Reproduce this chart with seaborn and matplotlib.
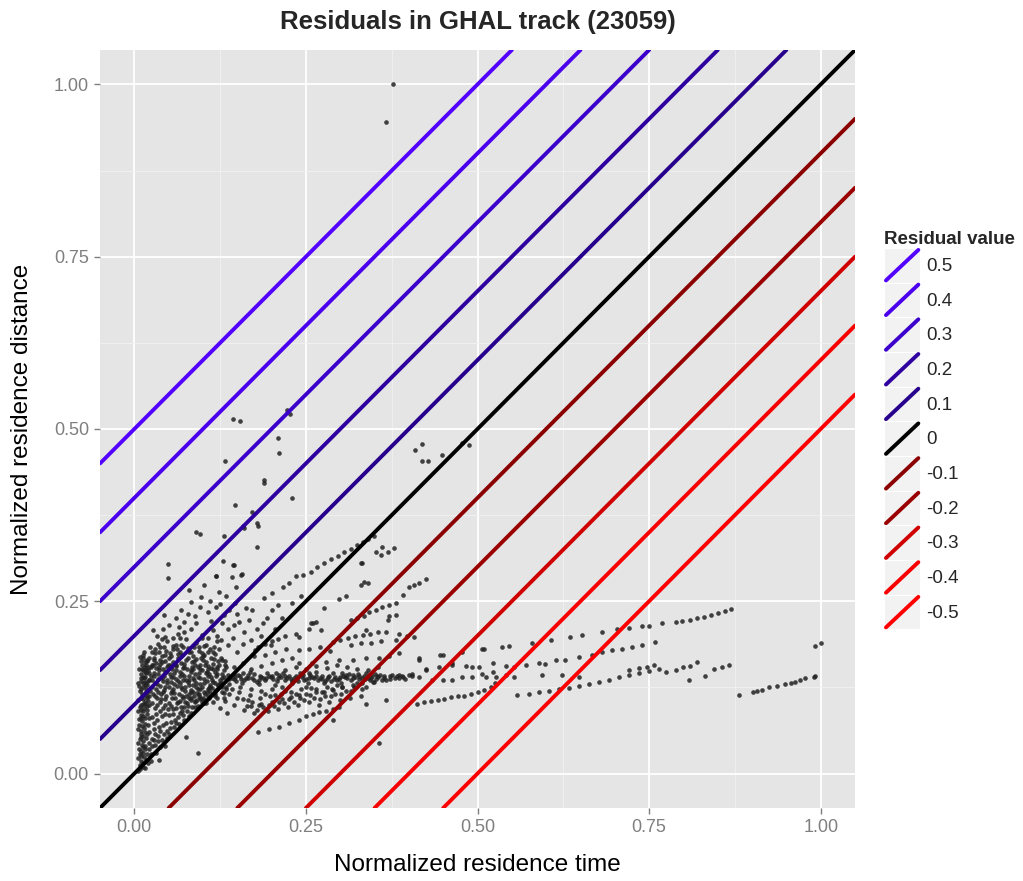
import numpy as np
import pandas as pd
import matplotlib
matplotlib.use("Agg")
import matplotlib.pyplot as plt
import seaborn as sns
from matplotlib.legend_handler import HandlerBase
from matplotlib.lines import Line2D
from matplotlib.patches import Rectangle
from matplotlib.ticker import MultipleLocator, FormatStrFormatter

# residual reference lines (y = x + r)
residuals = [0.5, 0.4, 0.3, 0.2, 0.1, 0.0, -0.1, -0.2, -0.3, -0.4, -0.5]
residual_labels = ["0.5", "0.4", "0.3", "0.2", "0.1", "0", "-0.1", "-0.2", "-0.3", "-0.4", "-0.5"]
residual_colors = ["#5200FF", "#4A00EE", "#3C00CC", "#2E00A0", "#26008C", "#000000",
                   "#8B0000", "#9A0000", "#D00000", "#F80000", "#FF0000"]

# point groups (normalized time, normalized distance)
outliers = [(0.377, 1.000), (0.367, 0.945), (0.144, 0.515), (0.154, 0.512), (0.223, 0.528),
            (0.227, 0.522), (0.209, 0.487), (0.211, 0.465), (0.132, 0.454), (0.189, 0.426),
            (0.189, 0.422), (0.229, 0.400), (0.147, 0.389), (0.172, 0.380), (0.158, 0.359),
            (0.160, 0.356), (0.178, 0.364), (0.180, 0.359), (0.090, 0.351), (0.095, 0.348),
            (0.130, 0.345), (0.179, 0.329), (0.049, 0.304), (0.049, 0.284), (0.129, 0.308),
            (0.145, 0.303), (0.119, 0.287), (0.142, 0.285), (0.157, 0.290), (0.409, 0.470),
            (0.419, 0.478), (0.419, 0.453), (0.428, 0.454), (0.448, 0.462), (0.478, 0.480),
            (0.487, 0.477), (0.352, 0.321), (0.361, 0.329), (0.369, 0.322), (0.378, 0.327),
            (0.360, 0.317), (0.331, 0.305)]

upper_scatter = [(0.119, 0.286), (0.143, 0.303), (0.155, 0.288), (0.148, 0.271), (0.124, 0.264),
                 (0.133, 0.257), (0.080, 0.266), (0.102, 0.274), (0.068, 0.237), (0.083, 0.249),
                 (0.095, 0.242), (0.107, 0.235), (0.119, 0.242), (0.131, 0.230), (0.146, 0.247),
                 (0.153, 0.220), (0.167, 0.223), (0.187, 0.218), (0.172, 0.237), (0.201, 0.237),
                 (0.230, 0.247), (0.243, 0.257), (0.257, 0.218), (0.027, 0.208), (0.041, 0.209),
                 (0.037, 0.184), (0.056, 0.196), (0.073, 0.220), (0.073, 0.206), (0.090, 0.218),
                 (0.099, 0.201), (0.114, 0.208), (0.136, 0.209), (0.126, 0.194), (0.137, 0.186),
                 (0.150, 0.177), (0.170, 0.194), (0.176, 0.179), (0.199, 0.186), (0.221, 0.181),
                 (0.240, 0.198), (0.255, 0.210), (0.264, 0.220), (0.060, 0.225), (0.088, 0.228),
                 (0.112, 0.222), (0.043, 0.230), (0.160, 0.205), (0.185, 0.200), (0.205, 0.210),
                 (0.215, 0.225), (0.050, 0.215), (0.065, 0.212), (0.078, 0.232), (0.097, 0.256),
                 (0.110, 0.250), (0.125, 0.246), (0.138, 0.238), (0.150, 0.232), (0.163, 0.240),
                 (0.178, 0.210), (0.193, 0.226), (0.210, 0.245), (0.108, 0.196), (0.120, 0.200),
                 (0.143, 0.197), (0.158, 0.188), (0.045, 0.198), (0.033, 0.200), (0.064, 0.203),
                 (0.082, 0.210), (0.127, 0.218), (0.145, 0.215)]

diag_streak = [(0.189, 0.254), (0.201, 0.262), (0.216, 0.271), (0.225, 0.276), (0.235, 0.286),
               (0.245, 0.288), (0.257, 0.293), (0.266, 0.299), (0.277, 0.305), (0.286, 0.311),
               (0.296, 0.316), (0.306, 0.321), (0.315, 0.326), (0.325, 0.331), (0.333, 0.336),
               (0.341, 0.340), (0.349, 0.345), (0.298, 0.253), (0.308, 0.258), (0.277, 0.240),
               (0.260, 0.218), (0.272, 0.208), (0.330, 0.305), (0.330, 0.274), (0.340, 0.277),
               (0.335, 0.278)]

vertical = [(0.008, 0.012), (0.010, 0.018), (0.012, 0.010), (0.009, 0.025), (0.013, 0.030),
            (0.007, 0.036), (0.011, 0.042), (0.015, 0.040), (0.008, 0.050), (0.012, 0.055),
            (0.010, 0.062), (0.014, 0.066), (0.007, 0.071), (0.011, 0.076), (0.016, 0.080),
            (0.009, 0.085), (0.013, 0.090), (0.008, 0.096), (0.012, 0.101), (0.016, 0.104),
            (0.010, 0.110), (0.014, 0.114), (0.008, 0.120), (0.012, 0.125), (0.016, 0.128),
            (0.010, 0.134), (0.014, 0.138), (0.009, 0.144), (0.013, 0.150), (0.017, 0.146),
            (0.011, 0.157), (0.015, 0.162), (0.012, 0.168), (0.018, 0.058), (0.017, 0.020),
            (0.020, 0.015), (0.018, 0.112), (0.019, 0.092), (0.005, 0.004), (0.016, 0.008),
            (0.024, 0.018), (0.006, 0.022), (0.014, 0.024), (0.010, 0.032), (0.016, 0.035),
            (0.006, 0.045), (0.013, 0.047), (0.017, 0.052), (0.009, 0.058), (0.006, 0.064),
            (0.015, 0.072), (0.010, 0.081), (0.018, 0.086), (0.006, 0.090), (0.014, 0.095),
            (0.010, 0.099), (0.018, 0.098), (0.006, 0.106), (0.013, 0.108), (0.017, 0.118),
            (0.010, 0.122), (0.006, 0.131), (0.016, 0.133), (0.012, 0.140), (0.007, 0.152),
            (0.016, 0.155), (0.009, 0.163), (0.013, 0.172), (0.018, 0.165), (0.008, 0.006),
            (0.013, 0.015), (0.019, 0.028), (0.021, 0.045), (0.022, 0.060), (0.021, 0.080),
            (0.023, 0.120), (0.022, 0.135), (0.021, 0.155), (0.008, 0.029), (0.012, 0.039),
            (0.009, 0.053), (0.015, 0.060), (0.011, 0.069), (0.007, 0.079), (0.013, 0.083),
            (0.009, 0.092), (0.015, 0.101), (0.011, 0.116), (0.007, 0.127), (0.013, 0.131),
            (0.009, 0.139), (0.015, 0.148), (0.011, 0.152), (0.017, 0.158), (0.008, 0.169),
            (0.014, 0.176)]

near_origin = [(0.022, 0.035), (0.025, 0.050), (0.028, 0.065), (0.030, 0.042), (0.033, 0.078),
               (0.035, 0.055), (0.038, 0.090), (0.040, 0.048), (0.042, 0.070), (0.045, 0.100),
               (0.048, 0.062), (0.050, 0.085), (0.053, 0.075), (0.055, 0.110), (0.058, 0.068),
               (0.060, 0.095), (0.063, 0.082), (0.066, 0.105), (0.070, 0.090), (0.072, 0.078),
               (0.075, 0.112), (0.078, 0.098), (0.082, 0.088), (0.085, 0.118), (0.088, 0.105),
               (0.092, 0.098), (0.095, 0.122), (0.100, 0.110), (0.105, 0.102), (0.110, 0.118),
               (0.024, 0.028), (0.032, 0.030), (0.045, 0.040), (0.030, 0.095), (0.026, 0.082),
               (0.039, 0.108), (0.020, 0.070), (0.022, 0.100), (0.092, 0.030), (0.036, 0.019),
               (0.075, 0.053), (0.026, 0.040), (0.030, 0.058), (0.034, 0.047), (0.036, 0.068),
               (0.040, 0.083), (0.043, 0.057), (0.046, 0.074), (0.049, 0.093), (0.052, 0.066),
               (0.056, 0.087), (0.059, 0.078), (0.062, 0.102), (0.065, 0.072), (0.068, 0.097),
               (0.071, 0.085), (0.074, 0.104), (0.077, 0.091), (0.080, 0.110), (0.084, 0.097),
               (0.087, 0.112), (0.091, 0.106), (0.094, 0.115), (0.098, 0.104), (0.102, 0.118),
               (0.107, 0.112), (0.113, 0.124), (0.118, 0.120), (0.028, 0.074), (0.033, 0.100),
               (0.037, 0.038), (0.041, 0.095), (0.047, 0.052), (0.054, 0.098), (0.028, 0.048),
               (0.031, 0.086), (0.038, 0.061), (0.044, 0.087), (0.051, 0.057), (0.057, 0.093),
               (0.061, 0.073), (0.067, 0.088), (0.073, 0.097), (0.079, 0.083), (0.083, 0.106),
               (0.089, 0.096), (0.096, 0.110), (0.103, 0.107), (0.109, 0.124), (0.116, 0.116),
               (0.122, 0.128), (0.127, 0.126)]

cluster = [(0.020, 0.105), (0.030, 0.112), (0.042, 0.118), (0.055, 0.120), (0.068, 0.125),
           (0.080, 0.128), (0.095, 0.130), (0.110, 0.128), (0.125, 0.132), (0.018, 0.128),
           (0.025, 0.135), (0.033, 0.130), (0.040, 0.138), (0.048, 0.132), (0.056, 0.140),
           (0.064, 0.134), (0.072, 0.142), (0.080, 0.136), (0.088, 0.144), (0.096, 0.138),
           (0.104, 0.146), (0.112, 0.140), (0.120, 0.145), (0.128, 0.138), (0.136, 0.143),
           (0.020, 0.150), (0.028, 0.146), (0.036, 0.155), (0.044, 0.148), (0.052, 0.158),
           (0.060, 0.150), (0.068, 0.160), (0.076, 0.152), (0.084, 0.162), (0.092, 0.155),
           (0.100, 0.164), (0.108, 0.156), (0.116, 0.166), (0.124, 0.158), (0.132, 0.163),
           (0.022, 0.168), (0.030, 0.175), (0.038, 0.165), (0.046, 0.178), (0.054, 0.170),
           (0.062, 0.180), (0.070, 0.172), (0.078, 0.182), (0.086, 0.170), (0.094, 0.178),
           (0.102, 0.172), (0.110, 0.180), (0.118, 0.174), (0.126, 0.168), (0.035, 0.188),
           (0.048, 0.192), (0.060, 0.186), (0.075, 0.195), (0.090, 0.190), (0.105, 0.186),
           (0.120, 0.192), (0.024, 0.142), (0.032, 0.160), (0.044, 0.126), (0.058, 0.130),
           (0.066, 0.148), (0.074, 0.120), (0.082, 0.150), (0.090, 0.126), (0.098, 0.150),
           (0.106, 0.134), (0.114, 0.152), (0.122, 0.124), (0.130, 0.150), (0.138, 0.130),
           (0.015, 0.140), (0.019, 0.118), (0.027, 0.158), (0.040, 0.170), (0.052, 0.145),
           (0.063, 0.168), (0.071, 0.135), (0.086, 0.138), (0.097, 0.168), (0.109, 0.145),
           (0.117, 0.132), (0.134, 0.155)]

cluster_dense = [(0.025, 0.103), (0.037, 0.104), (0.051, 0.102), (0.063, 0.104), (0.077, 0.103),
                 (0.089, 0.104), (0.101, 0.102), (0.115, 0.104), (0.019, 0.109), (0.033, 0.110),
                 (0.045, 0.108), (0.059, 0.110), (0.071, 0.109), (0.083, 0.110), (0.097, 0.108),
                 (0.109, 0.110), (0.121, 0.109), (0.027, 0.116), (0.039, 0.115), (0.053, 0.117),
                 (0.065, 0.116), (0.079, 0.115), (0.091, 0.117), (0.103, 0.116), (0.117, 0.115),
                 (0.131, 0.117), (0.017, 0.122), (0.031, 0.123), (0.043, 0.121), (0.057, 0.123),
                 (0.069, 0.122), (0.083, 0.121), (0.093, 0.123), (0.107, 0.122), (0.119, 0.121),
                 (0.133, 0.123), (0.021, 0.136), (0.035, 0.137), (0.047, 0.135), (0.061, 0.137),
                 (0.075, 0.136), (0.087, 0.135), (0.101, 0.137), (0.113, 0.136), (0.125, 0.135),
                 (0.029, 0.141), (0.043, 0.142), (0.053, 0.140), (0.067, 0.141), (0.079, 0.142),
                 (0.093, 0.140), (0.107, 0.141), (0.119, 0.142), (0.131, 0.140), (0.017, 0.152),
                 (0.031, 0.153), (0.041, 0.151), (0.055, 0.152), (0.071, 0.153), (0.085, 0.151),
                 (0.095, 0.152), (0.111, 0.153), (0.121, 0.151), (0.025, 0.158), (0.037, 0.159),
                 (0.049, 0.157), (0.061, 0.158), (0.073, 0.159), (0.089, 0.157), (0.103, 0.158),
                 (0.115, 0.159), (0.019, 0.163), (0.029, 0.164), (0.045, 0.163), (0.057, 0.162),
                 (0.075, 0.164), (0.087, 0.163), (0.105, 0.162), (0.127, 0.164), (0.026, 0.176),
                 (0.036, 0.177), (0.052, 0.175), (0.066, 0.176), (0.082, 0.177), (0.098, 0.175),
                 (0.114, 0.176), (0.023, 0.184), (0.043, 0.183), (0.057, 0.185), (0.071, 0.184),
                 (0.087, 0.183), (0.101, 0.185), (0.116, 0.184)]

cluster_fill = [(0.022, 0.112), (0.034, 0.118), (0.046, 0.113), (0.058, 0.117), (0.070, 0.113),
                (0.082, 0.118), (0.094, 0.113), (0.106, 0.118), (0.118, 0.112), (0.130, 0.110),
                (0.026, 0.126), (0.038, 0.127), (0.050, 0.125), (0.062, 0.127), (0.074, 0.126),
                (0.086, 0.128), (0.098, 0.125), (0.110, 0.126), (0.122, 0.129), (0.134, 0.126),
                (0.018, 0.133), (0.030, 0.132), (0.042, 0.134), (0.054, 0.133), (0.066, 0.131),
                (0.078, 0.133), (0.090, 0.132), (0.102, 0.131), (0.114, 0.133), (0.126, 0.132),
                (0.138, 0.137), (0.022, 0.146), (0.034, 0.145), (0.046, 0.147), (0.058, 0.146),
                (0.070, 0.145), (0.082, 0.147), (0.094, 0.146), (0.106, 0.148), (0.118, 0.147),
                (0.128, 0.145), (0.024, 0.155), (0.036, 0.150), (0.048, 0.154), (0.060, 0.156),
                (0.072, 0.155), (0.084, 0.155), (0.096, 0.157), (0.108, 0.152), (0.120, 0.155),
                (0.132, 0.158), (0.028, 0.168), (0.040, 0.162), (0.050, 0.167), (0.064, 0.174),
                (0.078, 0.167), (0.090, 0.166), (0.100, 0.170), (0.112, 0.168), (0.122, 0.163),
                (0.030, 0.181), (0.044, 0.172), (0.056, 0.180), (0.068, 0.186), (0.080, 0.176),
                (0.094, 0.184), (0.108, 0.176), (0.124, 0.180), (0.040, 0.195), (0.066, 0.196),
                (0.098, 0.196)]

band = [(0.142, 0.139), (0.148, 0.134), (0.154, 0.141), (0.160, 0.136), (0.166, 0.143),
        (0.172, 0.138), (0.178, 0.133), (0.184, 0.140), (0.190, 0.136), (0.196, 0.142),
        (0.202, 0.137), (0.208, 0.134), (0.214, 0.140), (0.220, 0.136), (0.226, 0.142),
        (0.232, 0.138), (0.238, 0.134), (0.244, 0.140), (0.250, 0.137), (0.256, 0.143),
        (0.262, 0.138), (0.268, 0.135), (0.274, 0.141), (0.280, 0.137), (0.286, 0.134),
        (0.292, 0.140), (0.298, 0.137), (0.304, 0.142), (0.310, 0.138), (0.316, 0.135),
        (0.322, 0.140), (0.328, 0.137), (0.334, 0.142), (0.340, 0.138), (0.346, 0.141),
        (0.352, 0.137), (0.358, 0.143), (0.364, 0.139), (0.372, 0.141), (0.380, 0.138),
        (0.390, 0.142), (0.400, 0.143), (0.415, 0.140), (0.145, 0.145), (0.157, 0.131),
        (0.169, 0.147), (0.181, 0.130), (0.193, 0.146), (0.205, 0.129), (0.217, 0.146),
        (0.229, 0.131), (0.241, 0.146), (0.253, 0.131), (0.265, 0.147), (0.277, 0.131),
        (0.289, 0.146), (0.301, 0.132), (0.313, 0.145), (0.325, 0.132), (0.337, 0.146),
        (0.349, 0.133), (0.361, 0.135), (0.145, 0.137), (0.151, 0.143), (0.163, 0.139),
        (0.175, 0.144), (0.187, 0.138), (0.199, 0.140), (0.211, 0.143), (0.223, 0.139),
        (0.235, 0.141), (0.247, 0.136), (0.259, 0.140), (0.271, 0.138), (0.283, 0.142),
        (0.295, 0.135), (0.307, 0.140), (0.319, 0.143), (0.331, 0.139), (0.343, 0.135),
        (0.355, 0.140), (0.367, 0.136), (0.376, 0.143), (0.385, 0.139), (0.395, 0.137),
        (0.405, 0.141), (0.158, 0.146), (0.182, 0.135), (0.206, 0.146), (0.230, 0.134),
        (0.254, 0.146), (0.278, 0.134), (0.302, 0.146), (0.326, 0.144), (0.350, 0.145),
        (0.147, 0.140), (0.156, 0.137), (0.165, 0.139), (0.174, 0.136), (0.183, 0.142),
        (0.192, 0.139), (0.201, 0.141), (0.210, 0.138), (0.219, 0.141), (0.228, 0.137),
        (0.237, 0.139), (0.246, 0.143), (0.255, 0.138), (0.264, 0.141), (0.273, 0.137),
        (0.282, 0.140), (0.291, 0.137), (0.300, 0.140), (0.309, 0.143), (0.318, 0.138),
        (0.327, 0.141), (0.336, 0.137), (0.345, 0.139), (0.354, 0.142), (0.363, 0.141),
        (0.372, 0.137), (0.382, 0.141), (0.392, 0.140)]

steep_cols = [(0.150, 0.110), (0.152, 0.118), (0.154, 0.126), (0.164, 0.098), (0.166, 0.106),
              (0.168, 0.114), (0.170, 0.122), (0.179, 0.092), (0.181, 0.100), (0.183, 0.110),
              (0.185, 0.120), (0.194, 0.090), (0.196, 0.100), (0.198, 0.112), (0.200, 0.122),
              (0.209, 0.094), (0.211, 0.104), (0.213, 0.116), (0.215, 0.126), (0.224, 0.096),
              (0.226, 0.108), (0.228, 0.118), (0.239, 0.100), (0.241, 0.110), (0.243, 0.122),
              (0.254, 0.104), (0.256, 0.114), (0.258, 0.124), (0.269, 0.100), (0.271, 0.108),
              (0.273, 0.118), (0.284, 0.104), (0.286, 0.112), (0.288, 0.122), (0.299, 0.106),
              (0.301, 0.116), (0.303, 0.126), (0.314, 0.110), (0.316, 0.120), (0.330, 0.112),
              (0.332, 0.122), (0.125, 0.095), (0.132, 0.105), (0.138, 0.115), (0.142, 0.122),
              (0.128, 0.118), (0.135, 0.088), (0.145, 0.100), (0.158, 0.108), (0.160, 0.092),
              (0.172, 0.104), (0.175, 0.088), (0.188, 0.096), (0.190, 0.116), (0.203, 0.098),
              (0.205, 0.114), (0.218, 0.102), (0.220, 0.120), (0.232, 0.104), (0.235, 0.116),
              (0.247, 0.106), (0.250, 0.126), (0.262, 0.110), (0.265, 0.122), (0.278, 0.112),
              (0.280, 0.126), (0.292, 0.116), (0.295, 0.128), (0.308, 0.120), (0.320, 0.125),
              (0.338, 0.126)]

above_band = [(0.145, 0.155), (0.158, 0.160), (0.170, 0.152), (0.185, 0.156), (0.200, 0.160),
              (0.215, 0.164), (0.230, 0.168), (0.175, 0.170), (0.190, 0.172), (0.205, 0.176),
              (0.220, 0.150), (0.235, 0.154), (0.250, 0.152), (0.265, 0.156), (0.280, 0.153),
              (0.295, 0.157), (0.310, 0.155), (0.325, 0.152), (0.340, 0.150), (0.355, 0.154)]

mid_streaks = [(0.289, 0.191), (0.300, 0.194), (0.311, 0.196), (0.322, 0.199), (0.333, 0.201),
               (0.344, 0.203), (0.355, 0.205), (0.366, 0.206), (0.386, 0.202), (0.397, 0.200),
               (0.408, 0.198), (0.240, 0.179), (0.255, 0.181), (0.270, 0.183), (0.285, 0.178),
               (0.315, 0.187), (0.330, 0.189), (0.345, 0.190), (0.360, 0.192), (0.381, 0.194),
               (0.240, 0.160), (0.259, 0.161), (0.279, 0.162), (0.298, 0.164), (0.318, 0.165),
               (0.337, 0.167), (0.357, 0.168), (0.371, 0.170), (0.386, 0.175), (0.315, 0.223),
               (0.325, 0.225), (0.335, 0.229), (0.342, 0.235), (0.352, 0.237), (0.361, 0.242),
               (0.371, 0.245), (0.381, 0.247), (0.391, 0.259), (0.400, 0.271), (0.408, 0.274),
               (0.415, 0.276), (0.425, 0.282), (0.337, 0.208), (0.369, 0.223), (0.371, 0.228),
               (0.381, 0.230), (0.180, 0.184), (0.190, 0.188), (0.200, 0.192), (0.210, 0.195),
               (0.220, 0.199), (0.235, 0.203)]

low_streaks = [(0.180, 0.060), (0.196, 0.064), (0.211, 0.068), (0.226, 0.073), (0.240, 0.078),
               (0.250, 0.084), (0.260, 0.087), (0.269, 0.089), (0.279, 0.091), (0.289, 0.094),
               (0.298, 0.097), (0.170, 0.098), (0.185, 0.101), (0.200, 0.104), (0.215, 0.108),
               (0.228, 0.111), (0.240, 0.114), (0.250, 0.116), (0.264, 0.118), (0.277, 0.118),
               (0.289, 0.121), (0.303, 0.126), (0.318, 0.128), (0.332, 0.131), (0.347, 0.133),
               (0.412, 0.101), (0.422, 0.104), (0.432, 0.105), (0.442, 0.107), (0.451, 0.108),
               (0.461, 0.111), (0.471, 0.112), (0.480, 0.113), (0.490, 0.116), (0.500, 0.118),
               (0.509, 0.121), (0.519, 0.126), (0.526, 0.131), (0.558, 0.114), (0.575, 0.116),
               (0.590, 0.118), (0.604, 0.120), (0.619, 0.122), (0.633, 0.124), (0.648, 0.127),
               (0.662, 0.130), (0.677, 0.133), (0.691, 0.136), (0.706, 0.140), (0.721, 0.143),
               (0.735, 0.146), (0.750, 0.149), (0.765, 0.152), (0.357, 0.045), (0.289, 0.077),
               (0.337, 0.101), (0.366, 0.106)]

right_streaks = [(0.774, 0.148), (0.789, 0.150), (0.800, 0.154), (0.810, 0.156), (0.820, 0.162),
                 (0.721, 0.150), (0.735, 0.153), (0.747, 0.155), (0.757, 0.157), (0.808, 0.135),
                 (0.832, 0.141), (0.844, 0.151), (0.856, 0.154), (0.866, 0.157), (0.881, 0.114),
                 (0.902, 0.118), (0.907, 0.120), (0.914, 0.121), (0.924, 0.126), (0.936, 0.127),
                 (0.948, 0.130), (0.956, 0.131), (0.963, 0.133), (0.970, 0.135), (0.977, 0.138),
                 (0.990, 0.140), (0.992, 0.142), (0.992, 0.185), (1.001, 0.190)]

upper_long = [(0.415, 0.167), (0.449, 0.172), (0.478, 0.176), (0.507, 0.180), (0.536, 0.184),
              (0.546, 0.185), (0.579, 0.189), (0.607, 0.194), (0.634, 0.198), (0.652, 0.201),
              (0.682, 0.205), (0.703, 0.209), (0.721, 0.211), (0.740, 0.214), (0.750, 0.214),
              (0.769, 0.218), (0.789, 0.220), (0.798, 0.221), (0.810, 0.223), (0.820, 0.225),
              (0.830, 0.227), (0.840, 0.230), (0.850, 0.233), (0.860, 0.236), (0.869, 0.239),
              (0.386, 0.143), (0.405, 0.145), (0.425, 0.150), (0.444, 0.155), (0.463, 0.160),
              (0.483, 0.156), (0.502, 0.155), (0.522, 0.160), (0.541, 0.156), (0.553, 0.155),
              (0.570, 0.157), (0.590, 0.160), (0.599, 0.159), (0.614, 0.164), (0.628, 0.165),
              (0.648, 0.169), (0.667, 0.172), (0.682, 0.177), (0.696, 0.179), (0.711, 0.181),
              (0.725, 0.184), (0.740, 0.186), (0.759, 0.191), (0.434, 0.135), (0.449, 0.135),
              (0.463, 0.135), (0.478, 0.140), (0.492, 0.140), (0.507, 0.145), (0.522, 0.147),
              (0.512, 0.140), (0.527, 0.140), (0.541, 0.143), (0.553, 0.140), (0.594, 0.143),
              (0.623, 0.143), (0.648, 0.140), (0.425, 0.152), (0.463, 0.157), (0.492, 0.155),
              (0.509, 0.181), (0.415, 0.165), (0.446, 0.172)]

groups = [outliers, upper_scatter, diag_streak, vertical, near_origin, cluster, cluster_dense,
          cluster_fill, band, steep_cols, above_band, mid_streaks, low_streaks, right_streaks,
          upper_long]
pts = pd.DataFrame([p for g in groups for p in g], columns=["time", "dist"])


class DiagonalKey(HandlerBase):
    # ggplot-style legend key: grey box with a diagonal line
    def create_artists(self, legend, orig_handle, xdescent, ydescent, width, height, fontsize, trans):
        x0, y0 = -xdescent, -ydescent
        bg = Rectangle((x0, y0), width, height, facecolor="#F2F2F2", edgecolor="white",
                       lw=0.8, transform=trans)
        ln = Line2D([x0 + 1.5, x0 + width - 1.5], [y0 + 1.5, y0 + height - 1.5],
                    color=orig_handle.get_color(), lw=orig_handle.get_linewidth(),
                    solid_capstyle="round", transform=trans)
        return [bg, ln]


sns.set_theme(style="darkgrid", rc={
    "axes.facecolor": "#E5E5E5",
    "grid.color": "white",
    "axes.edgecolor": "none",
})
plt.rcParams["font.family"] = ["Liberation Sans", "DejaVu Sans"]

fig = plt.figure(figsize=(10.23, 8.81), dpi=100)
ax = fig.add_axes([0.0978, 0.0829, 0.7380, 0.8604])

sns.scatterplot(data=pts, x="time", y="dist", color="#222222", s=11, linewidth=0,
                alpha=0.85, ax=ax, zorder=2)

handles = []
for r, c in zip(residuals, residual_colors):
    h = ax.axline((0, r), slope=1, color=c, lw=2.8, zorder=3)
    handles.append(h)

ax.set_xlim(-0.05, 1.05)
ax.set_ylim(-0.05, 1.05)
ax.xaxis.set_major_locator(MultipleLocator(0.25))
ax.yaxis.set_major_locator(MultipleLocator(0.25))
ax.xaxis.set_minor_locator(MultipleLocator(0.125))
ax.yaxis.set_minor_locator(MultipleLocator(0.125))
ax.xaxis.set_major_formatter(FormatStrFormatter("%.2f"))
ax.yaxis.set_major_formatter(FormatStrFormatter("%.2f"))
ax.grid(which="major", color="white", lw=1.3)
ax.grid(which="minor", color="#F2F2F2", lw=0.6)
ax.tick_params(which="major", direction="out", length=4, width=1, color="#7F7F7F",
               labelcolor="#7F7F7F", labelsize=13, bottom=True, left=True, pad=4)
ax.tick_params(which="minor", length=0)

ax.set_xlabel("Normalized residence time", fontsize=17.5, color="black", labelpad=13)
ax.set_ylabel("Normalized residence distance", fontsize=17.5, color="black", labelpad=15)
ax.set_title("Residuals in GHAL track (23059)", fontsize=18.5, fontweight="bold", pad=15)

leg = fig.legend(handles, residual_labels, handler_map={Line2D: DiagonalKey()},
                 title="Residual value", loc="upper left", bbox_to_anchor=(0.864, 0.738),
                 frameon=False, fontsize=13.5, title_fontsize=13.5, handlelength=1.95,
                 handleheight=2.47, labelspacing=0.0, handletextpad=0.3, borderpad=0,
                 borderaxespad=0)
leg.get_title().set_fontweight("bold")
leg._legend_box.align = "left"

fig.savefig("out.png", dpi=100)
